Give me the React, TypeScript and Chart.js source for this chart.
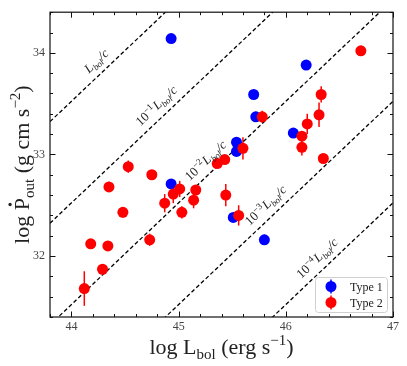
import React, { useEffect, useRef } from "react";
import { Chart, registerables } from "chart.js";

Chart.register(...registerables);

// ---- Data ----
const type1LogL = [44.93, 46.19, 45.7, 45.72, 46.07, 45.54, 45.54, 44.93, 45.51, 45.8];
const type1LogP = [34.14, 33.88, 33.59, 33.37, 33.21, 33.12, 33.03, 32.71, 32.38, 32.16];
const type1Err = [0, 0, 0, 0.05, 0, 0, 0, 0, 0, 0.05];

const type2LogL = [
  46.7, 46.33, 45.78, 46.31, 46.2, 46.15, 46.15, 45.6, 46.35, 45.43, 45.36, 44.53, 44.75, 44.35,
  45.01, 45.16, 44.95, 45.44, 45.14, 44.87, 44.48, 45.03, 45.56, 44.73, 44.18, 44.34, 44.29, 44.12,
];
const type2LogP = [
  34.02, 33.59, 33.37, 33.39, 33.3, 33.18, 33.07, 33.06, 32.96, 32.95, 32.91, 32.88, 32.8, 32.68,
  32.66, 32.65, 32.61, 32.6, 32.55, 32.52, 32.43, 32.43, 32.4, 32.16, 32.12, 32.1, 31.87, 31.68,
];
const type2Err = [
  0.04, 0.08, 0.06, 0.12, 0.1, 0.04, 0.08, 0.11, 0, 0.03, 0.03, 0.06, 0, 0.05, 0.08, 0.05, 0.09,
  0.11, 0.08, 0.09, 0.05, 0.06, 0.1, 0.06, 0, 0, 0.02, 0.17,
];

const xTickValues = [44, 45, 46, 47];
const yTickValues = [32, 33, 34];
const xRange = [43.8, 47];
const yRange = [31.4, 34.4];

// Reference lines: log Pdot = log L + exp - log c
const LOG_C = 10.477;
const fractionExps = [0, -1, -2, -3, -4];
const labelAnchorsLogL = [44.31, 44.87, 45.33, 45.89, 46.37];

const legendLabels = ["Type 1", "Type 2"];
const seriesColors = ["#0000ff", "#ff0000"];

// ---- Drawing helpers ----
const SERIF = '"Liberation Serif", "DejaVu Serif", serif';
type Seg = { t: string; size: number; dy?: number; italic?: boolean; dot?: boolean };

function segFont(s: Seg) {
  return `${s.italic ? "italic " : ""}${s.size}px ${SERIF}`;
}
function measureSegs(ctx: CanvasRenderingContext2D, segs: Seg[]) {
  let w = 0;
  for (const s of segs) {
    ctx.font = segFont(s);
    w += ctx.measureText(s.t).width;
  }
  return w;
}
function drawSegs(ctx: CanvasRenderingContext2D, segs: Seg[], x: number, y: number) {
  let cx = x;
  for (const s of segs) {
    ctx.font = segFont(s);
    ctx.fillText(s.t, cx, y + (s.dy || 0));
    const w = ctx.measureText(s.t).width;
    if (s.dot) {
      ctx.beginPath();
      ctx.arc(cx + w * 0.47, y - s.size * 0.86, s.size * 0.075, 0, Math.PI * 2);
      ctx.fill();
    }
    cx += w;
  }
}

function lineLabelSegs(e: number): Seg[] {
  const lpart: Seg[] = [
    { t: "L", size: 13, italic: true },
    { t: "bol", size: 9, dy: 3, italic: true },
    { t: "/c", size: 13, italic: true },
  ];
  if (e === 0) return lpart;
  return [{ t: "10", size: 13 }, { t: "\u2212" + -e, size: 9, dy: -5 }, { t: " ", size: 4 }, ...lpart];
}

const decorPlugin = {
  id: "decor",
  beforeDatasetsDraw(chart: any) {
    const { ctx } = chart;
    const xs = chart.scales.x;
    const ys = chart.scales.y;
    const groups = [
      { L: type1LogL, P: type1LogP, E: type1Err, c: seriesColors[0] },
      { L: type2LogL, P: type2LogP, E: type2Err, c: seriesColors[1] },
    ];
    ctx.save();
    ctx.lineWidth = 1.5;
    for (const g of groups) {
      ctx.strokeStyle = g.c;
      g.L.forEach((l, i) => {
        if (!g.E[i]) return;
        const px = xs.getPixelForValue(l);
        ctx.beginPath();
        ctx.moveTo(px, ys.getPixelForValue(g.P[i] - g.E[i]));
        ctx.lineTo(px, ys.getPixelForValue(g.P[i] + g.E[i]));
        ctx.stroke();
      });
    }
    ctx.restore();
  },
  afterDraw(chart: any) {
    const { ctx, chartArea: a } = chart;
    const xs = chart.scales.x;
    const ys = chart.scales.y;
    ctx.save();

    // frame
    ctx.strokeStyle = "#111";
    ctx.lineWidth = 1.2;
    ctx.strokeRect(a.left, a.top, a.right - a.left, a.bottom - a.top);

    // inward ticks on all sides
    ctx.lineWidth = 1;
    ctx.beginPath();
    for (let i = Math.ceil(xRange[0] * 5); i <= Math.floor(xRange[1] * 5); i++) {
      const v = i / 5;
      const major = i % 5 === 0;
      const len = major ? 5.5 : 3;
      const px = Math.round(xs.getPixelForValue(v)) + 0.5;
      ctx.moveTo(px, a.bottom);
      ctx.lineTo(px, a.bottom - len);
      ctx.moveTo(px, a.top);
      ctx.lineTo(px, a.top + len);
    }
    for (let i = Math.ceil(yRange[0] * 5); i <= Math.floor(yRange[1] * 5); i++) {
      const v = i / 5;
      const major = i % 5 === 0;
      const len = major ? 5.5 : 3;
      const py = Math.round(ys.getPixelForValue(v)) + 0.5;
      ctx.moveTo(a.left, py);
      ctx.lineTo(a.left + len, py);
      ctx.moveTo(a.right, py);
      ctx.lineTo(a.right - len, py);
    }
    ctx.stroke();

    // line labels
    ctx.fillStyle = "#222";
    ctx.textBaseline = "alphabetic";
    fractionExps.forEach((e, i) => {
      const lx = labelAnchorsLogL[i];
      const x1 = xs.getPixelForValue(lx);
      const y1 = ys.getPixelForValue(lx + e - LOG_C);
      const x2 = xs.getPixelForValue(lx + 1);
      const y2 = ys.getPixelForValue(lx + 1 + e - LOG_C);
      const th = Math.atan2(y2 - y1, x2 - x1);
      const off = 12;
      const cx = x1 + Math.sin(th) * off;
      const cy = y1 - Math.cos(th) * off;
      const segs = lineLabelSegs(e);
      const w = measureSegs(ctx, segs);
      ctx.save();
      ctx.translate(cx, cy);
      ctx.rotate(th);
      drawSegs(ctx, segs, -w / 2, 4);
      ctx.restore();
    });

    // legend
    const lw = 72;
    const lh = 35;
    const lx0 = a.right - 6 - lw;
    const ly0 = a.bottom - 5 - lh;
    ctx.fillStyle = "rgba(255,255,255,0.85)";
    ctx.strokeStyle = "#d0d0d0";
    ctx.lineWidth = 1;
    ctx.beginPath();
    (ctx as any).roundRect(lx0 + 0.5, ly0 + 0.5, lw, lh, 3);
    ctx.fill();
    ctx.stroke();
    legendLabels.forEach((lab, i) => {
      const my = ly0 + 9.5 + i * 16;
      const mx = lx0 + 16;
      ctx.fillStyle = seriesColors[i];
      ctx.strokeStyle = seriesColors[i];
      ctx.lineWidth = 1.5;
      ctx.beginPath();
      ctx.moveTo(mx, my - 7);
      ctx.lineTo(mx, my + 7);
      ctx.stroke();
      ctx.beginPath();
      ctx.arc(mx, my, 5.5, 0, Math.PI * 2);
      ctx.fill();
      ctx.fillStyle = "#222";
      ctx.font = `12px ${SERIF}`;
      ctx.textBaseline = "middle";
      ctx.fillText(lab, lx0 + 35, my + 1);
    });

    // axis titles
    ctx.fillStyle = "#222";
    ctx.textBaseline = "alphabetic";
    const xt: Seg[] = [
      { t: "log L", size: 22 },
      { t: "bol", size: 15, dy: 5 },
      { t: " (erg s", size: 22 },
      { t: "\u22121", size: 15, dy: -9 },
      { t: ")", size: 22 },
    ];
    const xw = measureSegs(ctx, xt);
    drawSegs(ctx, xt, (a.left + a.right) / 2 - xw / 2, 354);

    const yt: Seg[] = [
      { t: "log ", size: 22 },
      { t: "P", size: 22, dot: true },
      { t: "out", size: 15, dy: 5 },
      { t: " (g cm s", size: 22 },
      { t: "\u22122", size: 15, dy: -9 },
      { t: ")", size: 22 },
    ];
    const yw = measureSegs(ctx, yt);
    ctx.save();
    ctx.translate(29, (a.top + a.bottom) / 2);
    ctx.rotate(-Math.PI / 2);
    drawSegs(ctx, yt, -yw / 2, 0);
    ctx.restore();

    ctx.restore();
  },
};

export default function App() {
  const ref = useRef<HTMLCanvasElement | null>(null);

  useEffect(() => {
    if (!ref.current) return;
    const lineSets = fractionExps.map((e) => ({
      type: "line" as const,
      data: xRange.map((x) => ({ x, y: x + e - LOG_C })),
      borderColor: "#000",
      borderWidth: 1.3,
      borderDash: [4, 2.5],
      pointRadius: 0,
      fill: false,
      showLine: true,
      tension: 0,
    }));
    const chart = new Chart(ref.current, {
      type: "scatter",
      data: {
        datasets: [
          {
            label: legendLabels[1],
            data: type2LogL.map((x, i) => ({ x, y: type2LogP[i] })),
            backgroundColor: seriesColors[1],
            borderWidth: 0,
            pointRadius: 5.5,
          },
          {
            label: legendLabels[0],
            data: type1LogL.map((x, i) => ({ x, y: type1LogP[i] })),
            backgroundColor: seriesColors[0],
            borderWidth: 0,
            pointRadius: 5.5,
          },
          ...lineSets,
        ] as any,
      },
      options: {
        animation: false,
        responsive: false,
        devicePixelRatio: 1,
        layout: { padding: { left: 0, right: 14, top: 7, bottom: 0 } },
        plugins: { legend: { display: false }, tooltip: { enabled: false } },
        scales: {
          x: {
            type: "linear",
            min: xRange[0],
            max: xRange[1],
            afterBuildTicks: (s: any) => {
              s.ticks = xTickValues.map((v) => ({ value: v }));
            },
            afterFit: (s: any) => {
              s.height = 49;
            },
            grid: { display: false, drawTicks: false },
            border: { display: false },
            ticks: {
              padding: 3,
              color: "#444",
              font: { family: SERIF, size: 12 },
              maxRotation: 0,
              autoSkip: false,
            },
          },
          y: {
            type: "linear",
            min: yRange[0],
            max: yRange[1],
            afterBuildTicks: (s: any) => {
              s.ticks = yTickValues.map((v) => ({ value: v }));
            },
            afterFit: (s: any) => {
              s.width = 50;
            },
            grid: { display: false, drawTicks: false },
            border: { display: false },
            ticks: {
              padding: 5,
              color: "#444",
              font: { family: SERIF, size: 12 },
              autoSkip: false,
            },
          },
        },
      } as any,
      plugins: [decorPlugin as any],
    });
    return () => chart.destroy();
  }, []);

  return (
    <div style={{ position: "fixed", left: 0, top: 0, width: 407, height: 366, background: "#fff" }}>
      <canvas ref={ref} width={407} height={366} />
    </div>
  );
}
